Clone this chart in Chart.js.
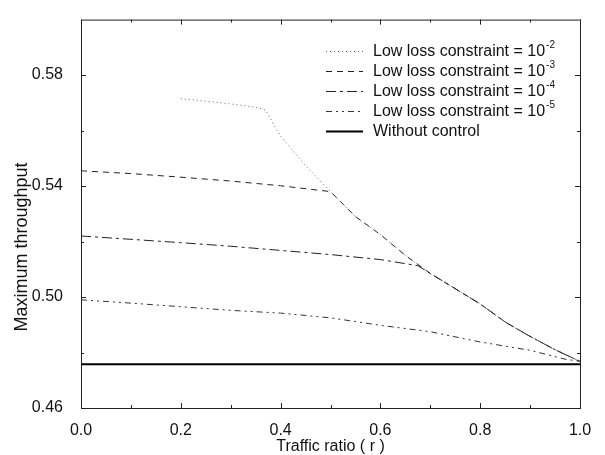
<!DOCTYPE html>
<html>
<head>
<meta charset="utf-8">
<script src="https://cdn.jsdelivr.net/npm/chart.js@4.4.1/dist/chart.umd.min.js"></script>
<style>
  html, body { margin: 0; padding: 0; background: #fff; }
  canvas { display: block; }
</style>
</head>
<body>
<canvas id="chart" width="605" height="455"></canvas>
<script>
// tick values
const xTicks = [0.0, 0.2, 0.4, 0.6, 0.8, 1.0];
const xMinorTicks = [0.1, 0.3, 0.5, 0.7, 0.9];
const yTicks = [0.46, 0.50, 0.54, 0.58];
const yMinorTicks = [0.48, 0.52, 0.56];

// series (traffic ratio r -> maximum throughput)
const r1e2 = [0.20, 0.25, 0.30, 0.35, 0.37, 0.38, 0.39, 0.40, 0.45, 0.50, 0.55, 0.60, 0.65, 0.70, 0.75, 0.80, 0.85, 0.90, 0.95, 1.00];
const t1e2 = [0.5715, 0.5706, 0.5696, 0.5684, 0.5673, 0.5642, 0.5608, 0.5580, 0.5474, 0.5380, 0.5290, 0.5225, 0.5150, 0.5085, 0.5030, 0.4975, 0.4910, 0.4858, 0.4810, 0.4768];

const r1e3 = [0.0, 0.1, 0.2, 0.3, 0.4, 0.5, 0.55, 0.60, 0.65, 0.70, 0.75, 0.80, 0.85, 0.90, 0.95, 1.00];
const t1e3 = [0.5455, 0.5445, 0.5432, 0.5418, 0.5401, 0.5380, 0.5290, 0.5225, 0.5150, 0.5085, 0.5030, 0.4975, 0.4910, 0.4858, 0.4810, 0.4768];

const r1e4 = [0.0, 0.1, 0.2, 0.3, 0.4, 0.5, 0.6, 0.675, 0.70, 0.75, 0.80, 0.85, 0.90, 0.95, 1.00];
const t1e4 = [0.5220, 0.5208, 0.5196, 0.5183, 0.5168, 0.5153, 0.5135, 0.5113, 0.5085, 0.5030, 0.4975, 0.4910, 0.4858, 0.4810, 0.4768];

const r1e5 = [0.0, 0.1, 0.2, 0.3, 0.4, 0.5, 0.6, 0.7, 0.8, 0.9, 0.97, 1.00];
const t1e5 = [0.4990, 0.4978, 0.4965, 0.4952, 0.4942, 0.4925, 0.4898, 0.4875, 0.4838, 0.4808, 0.4776, 0.4768];

const rNoCtrl = [0.0, 1.0];
const tNoCtrl = [0.4758, 0.4758];

const seriesLabels = ['Low loss constraint = 10', 'Low loss constraint = 10', 'Low loss constraint = 10', 'Low loss constraint = 10', 'Without control'];
const seriesExponents = ['-2', '-3', '-4', '-5', ''];
const yTitle = 'Maximum throughput';

const FONT = "'Liberation Sans', Arial, Helvetica, sans-serif";
const zip = (xs, ys) => xs.map((x, i) => ({ x, y: ys[i] }));

const styles = [
    { borderColor: '#666', borderWidth: 1, borderDash: [1, 3] },
    { borderColor: '#222', borderWidth: 1, borderDash: [6, 5] },
    { borderColor: '#222', borderWidth: 1, borderDash: [10, 4, 3, 4] },
    { borderColor: '#333', borderWidth: 1, borderDash: [6, 4, 2, 4, 2, 4] },
    { borderColor: '#000', borderWidth: 2, borderDash: [] },
];
const seriesData = [zip(r1e2, t1e2), zip(r1e3, t1e3), zip(r1e4, t1e4), zip(r1e5, t1e5), zip(rNoCtrl, tNoCtrl)];

// frame + inward ticks on all four sides, plus the y title (sits lower than centre in the original)
const framePlugin = {
    id: 'frame',
    afterDraw(chart) {
        const { ctx, chartArea: a, scales } = chart;
        ctx.save();
        ctx.strokeStyle = '#222';
        ctx.lineWidth = 1;
        ctx.strokeRect(a.left + 0.5, a.top + 0.5, a.right - a.left, a.bottom - a.top);
        ctx.beginPath();
        const tickX = (v, len) => {
            const px = Math.round(scales.x.getPixelForValue(v)) + 0.5;
            ctx.moveTo(px, a.bottom); ctx.lineTo(px, a.bottom - len);
            ctx.moveTo(px, a.top); ctx.lineTo(px, a.top + len);
        };
        const tickY = (v, len) => {
            const py = Math.round(scales.y.getPixelForValue(v)) + 0.5;
            ctx.moveTo(a.left, py); ctx.lineTo(a.left + len, py);
            ctx.moveTo(a.right, py); ctx.lineTo(a.right - len, py);
        };
        xTicks.forEach(v => tickX(v, 5));
        xMinorTicks.forEach(v => tickX(v, 3));
        yTicks.forEach(v => tickY(v, 5));
        yMinorTicks.forEach(v => tickY(v, 3));
        ctx.stroke();

        ctx.translate(22, 247);
        ctx.rotate(-Math.PI / 2);
        ctx.fillStyle = '#111';
        ctx.font = `18px ${FONT}`;
        ctx.textAlign = 'center';
        ctx.textBaseline = 'middle';
        ctx.fillText(yTitle, 0, 0);
        ctx.restore();
    }
};

// legend inside the plot, top right
const legendPlugin = {
    id: 'insideLegend',
    afterDatasetsDraw(chart) {
        const ctx = chart.ctx;
        ctx.save();
        chart.data.datasets.forEach((ds, i) => {
            const y = 51 + i * 20;
            ctx.beginPath();
            ctx.strokeStyle = ds.borderColor;
            ctx.lineWidth = ds.borderWidth;
            ctx.setLineDash(ds.borderDash);
            ctx.moveTo(326, y + 0.5);
            ctx.lineTo(363, y + 0.5);
            ctx.stroke();
            ctx.setLineDash([]);
            ctx.fillStyle = '#111';
            ctx.textBaseline = 'middle';
            ctx.font = `16px ${FONT}`;
            ctx.fillText(ds.label, 373, y + 1);
            if (ds.exponent) {
                const w = ctx.measureText(ds.label).width;
                ctx.font = `10px ${FONT}`;
                ctx.fillText(ds.exponent, 373 + w + 1, y - 6);
            }
        });
        ctx.restore();
    }
};

new Chart(document.getElementById('chart'), {
    type: 'line',
    data: {
        datasets: seriesData.map((data, i) => ({
            label: seriesLabels[i],
            exponent: seriesExponents[i],
            data,
            ...styles[i],
            pointRadius: 0,
            fill: false,
            tension: 0,
        })),
    },
    options: {
        responsive: false,
        devicePixelRatio: 1,
        animation: false,
        layout: { padding: { top: 9, right: 25, left: 0, bottom: 0 } },
        plugins: { legend: { display: false }, tooltip: { enabled: false } },
        scales: {
            x: {
                type: 'linear',
                min: 0, max: 1,
                grid: { display: false },
                border: { display: false },
                afterBuildTicks: (scale) => { scale.ticks = xTicks.map(value => ({ value })); },
                afterFit: (scale) => { scale.height = 47; },
                ticks: {
                    padding: 5,
                    maxRotation: 0,
                    color: '#111',
                    font: { family: FONT, size: 16 },
                    callback: (v) => Number(v).toFixed(1),
                },
                title: {
                    display: true,
                    text: 'Traffic ratio ( r )',
                    color: '#111',
                    font: { family: FONT, size: 16, lineHeight: 1 },
                    padding: { top: 0, bottom: 0 },
                },
            },
            y: {
                type: 'linear',
                min: 0.46, max: 0.6,
                grid: { display: false },
                border: { display: false },
                afterBuildTicks: (scale) => { scale.ticks = yTicks.map(value => ({ value })); },
                afterFit: (scale) => { scale.width = 81; },
                ticks: {
                    padding: 10,
                    color: '#111',
                    font: { family: FONT, size: 16 },
                    callback: (v) => Number(v).toFixed(2),
                },
                title: { display: false },
            },
        },
    },
    plugins: [framePlugin, legendPlugin],
});
</script>
</body>
</html>
